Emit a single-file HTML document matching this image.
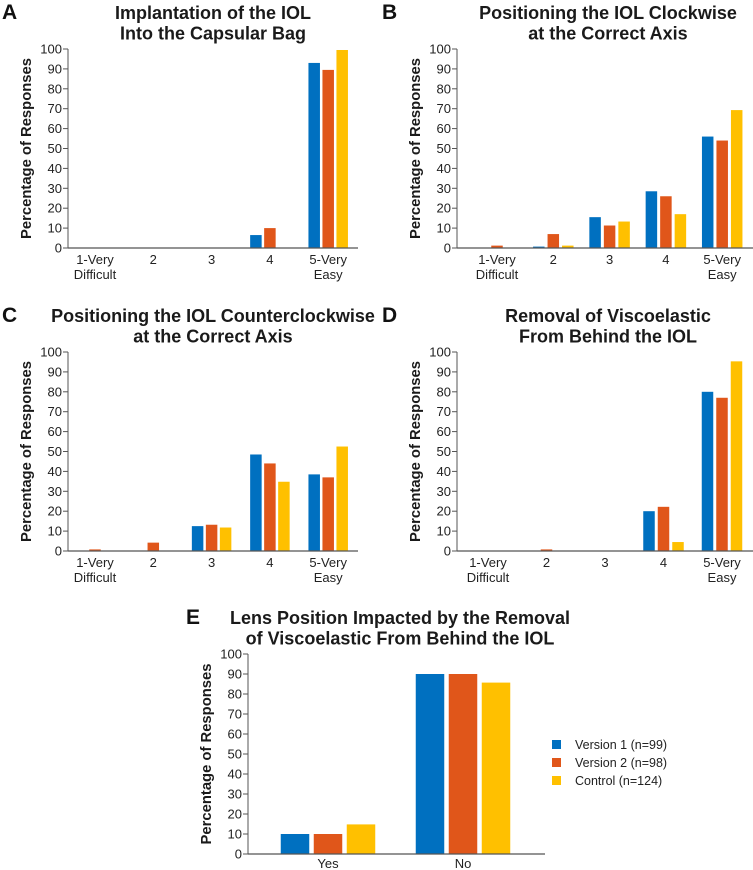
<!DOCTYPE html>
<html><head><meta charset="utf-8">
<style>
html,body{margin:0;padding:0;background:#fff;}
svg{display:block;font-family:"Liberation Sans",Arial,sans-serif;}
</style></head>
<body>
<svg id="fig" width="753" height="870" viewBox="0 0 753 870" xmlns="http://www.w3.org/2000/svg"></svg>
<script>
const seriesNames = ["Version 1 (n=99)", "Version 2 (n=98)", "Control (n=124)"];
const colors = ["#0070c0", "#e0561a", "#ffc000"];
const yTicks = [0,10,20,30,40,50,60,70,80,90,100];
const likertCats = [["1-Very","Difficult"],["2"],["3"],["4"],["5-Very","Easy"]];
const yesNoCats = [["Yes"],["No"]];

const aV1 = [0,0,0,6.5,93];
const aV2 = [0,0,0,10,89.5];
const aCtl = [0,0,0,0,99.5];
const bV1 = [0,0.7,15.5,28.5,56];
const bV2 = [1.2,7,11.3,26,54];
const bCtl = [0,1.2,13.3,17,69.3];
const cV1 = [0,0,12.5,48.5,38.5];
const cV2 = [0.8,4.2,13.2,44,37];
const cCtl = [0,0,11.8,34.8,52.5];
const dV1 = [0,0,0,20,80];
const dV2 = [0,0.8,0,22.2,77];
const dCtl = [0,0,0,4.5,95.3];
const eV1 = [10,90];
const eV2 = [10,90];
const eCtl = [14.8,85.7];

const NS = "http://www.w3.org/2000/svg";
const svg = document.getElementById("fig");
function mk(tag, attrs, parent){
  const e = document.createElementNS(NS, tag);
  for (const k in attrs) e.setAttribute(k, attrs[k]);
  (parent||svg).appendChild(e);
  return e;
}

const panels = [
  {id:"a", letter:"A", lx:2, title:["Implantation of the IOL","Into the Capsular Bag"], tcx:213, ax0:68, ax1:358, yTop:49, yBot:248, c0:95, step:58.3, bw:11.5, bs:14, cats:likertCats, data:[aV1,aV2,aCtl], lab:16},
  {id:"b", letter:"B", lx:382, title:["Positioning the IOL Clockwise","at the Correct Axis"], tcx:608, ax0:457, ax1:753, yTop:49, yBot:248, c0:497, step:56.3, bw:11.5, bs:14.5, cats:likertCats, data:[bV1,bV2,bCtl], lab:16},
  {id:"c", letter:"C", lx:2, title:["Positioning the IOL Counterclockwise","at the Correct Axis"], tcx:213, ax0:68, ax1:358, yTop:352, yBot:551, c0:95, step:58.3, bw:11.5, bs:14, cats:likertCats, data:[cV1,cV2,cCtl], lab:16},
  {id:"d", letter:"D", lx:382, title:["Removal of Viscoelastic","From Behind the IOL"], tcx:608, ax0:457, ax1:753, yTop:352, yBot:551, c0:488, step:58.5, bw:11.5, bs:14.5, cats:likertCats, data:[dV1,dV2,dCtl], lab:16},
  {id:"e", letter:"E", lx:186, title:["Lens Position Impacted by the Removal","of Viscoelastic From Behind the IOL"], tcx:400, ax0:248, ax1:545, yTop:654, yBot:854, c0:328, step:135, bw:28.5, bs:33, cats:yesNoCats, data:[eV1,eV2,eCtl], lab:14}
];

panels.forEach(p => {
  const g = mk("g", {});
  
  
  const yS = v => p.yBot - (v/100)*(p.yBot - p.yTop);
  const xS = i => p.c0 + i*p.step;

  const L = mk("text", {x:p.lx, y:p.yTop-30, "font-size":21, "font-weight":"bold", fill:"#111"}, g);
  L.textContent = p.letter;
  
  

  p.title.forEach((t, k) => {
    const T = mk("text", {x:p.tcx, y:p.yTop-30+k*20.5, "font-size":18, "font-weight":"bold", "text-anchor":"middle", fill:"#1a1a1a"}, g);
    T.textContent = t;
    
    
  });

  const yl = mk("text", {x:0, y:0, "font-size":14.8, "font-weight":"bold", "text-anchor":"middle", fill:"#1a1a1a", transform:`translate(${p.ax0-37},${(p.yTop+p.yBot)/2}) rotate(-90)`}, g);
  yl.textContent = "Percentage of Responses";
  
  

  const ya = mk("line", {x1:p.ax0, x2:p.ax0, y1:p.yTop, y2:p.yBot, stroke:"#555", "stroke-width":1}, g);
  
  
  yTicks.forEach(v => {
    const y = yS(v);
    mk("line", {x1:p.ax0-5, x2:p.ax0, y1:y, y2:y, stroke:"#555", "stroke-width":1}, g);
    const t = mk("text", {x:p.ax0-6, y:y+4.5, "font-size":13, "text-anchor":"end", fill:"#222"}, g);
    t.textContent = v;
    
    
  });

  p.data.forEach((series, s) => {
    series.forEach((v, i) => {
      if (v <= 0) return;
      const x = xS(i) + (s-1)*p.bs - p.bw/2;
      const r = mk("rect", {x:x, y:yS(v), width:p.bw, height:p.yBot - yS(v), fill:colors[s]}, g);
      
      
    });
  });

  const xa = mk("line", {x1:p.ax0, x2:p.ax1, y1:p.yBot, y2:p.yBot, stroke:"#555", "stroke-width":1.2}, g);
  
  

  p.cats.forEach((lines, i) => {
    lines.forEach((ln, k) => {
      const t = mk("text", {x:xS(i), y:p.yBot+p.lab+k*15, "font-size":13, "text-anchor":"middle", fill:"#222"}, g);
      t.textContent = ln;
      
      
    });
  });
});

const lg = mk("g", {});


seriesNames.forEach((n, s) => {
  const y = 745 + s*18;
  const r = mk("rect", {x:552, y:y-5, width:9, height:9, fill:colors[s]}, lg);
  
  
  const t = mk("text", {x:575, y:y+4, "font-size":12.5, fill:"#222"}, lg);
  t.textContent = n;
  
  
});
</script>
</body></html>
